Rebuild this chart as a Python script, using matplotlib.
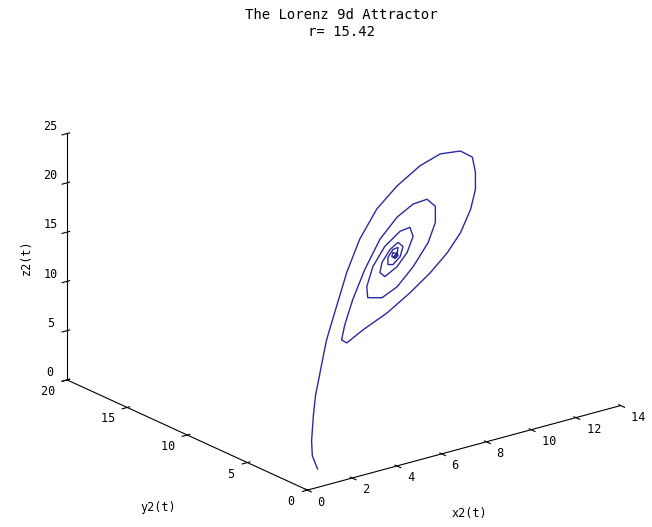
import numpy as np
import matplotlib
matplotlib.use("Agg")
import matplotlib.pyplot as plt

# trajectory (x2, y2, z2)
x2 = [0.79, 0.39, 0.32, 0.47, 0.63, 0.95, 1.26, 1.50, 2.13, 3.08,
      4.10, 5.44, 7.02, 8.83, 10.41, 11.99, 12.93, 13.17, 13.17, 12.78,
      11.99, 10.96, 9.62, 8.04, 6.23, 4.34, 3.08, 2.68, 2.92, 3.55,
      4.50, 5.68, 7.02, 8.28, 9.38, 10.02, 10.02, 9.46, 8.28, 7.02,
      5.84, 4.73, 4.65, 5.13, 6.07, 7.26, 8.04, 8.28, 7.81, 7.02,
      6.07, 5.68, 5.84, 6.47, 7.10, 7.49, 7.26, 6.70, 6.31, 6.31,
      6.70, 7.10, 7.02, 6.78, 6.86, 7.02, 7.10, 6.86, 6.62, 6.70,
      6.94, 6.94, 6.78]
y2 = [0.63, 0.32, 0.25, 0.38, 0.50, 0.76, 1.01, 1.20, 1.70, 2.46,
      3.28, 4.35, 5.61, 7.07, 8.33, 9.59, 10.35, 10.54, 10.54, 10.22,
      9.59, 8.77, 7.70, 6.44, 4.98, 3.47, 2.46, 2.15, 2.33, 2.84,
      3.60, 4.54, 5.61, 6.62, 7.51, 8.01, 8.01, 7.57, 6.62, 5.61,
      4.67, 3.79, 3.72, 4.10, 4.86, 5.80, 6.44, 6.62, 6.25, 5.61,
      4.86, 4.54, 4.67, 5.17, 5.68, 5.99, 5.80, 5.36, 5.05, 5.05,
      5.36, 5.68, 5.61, 5.43, 5.49, 5.61, 5.68, 5.49, 5.30, 5.36,
      5.55, 5.55, 5.43]
z2 = [1.31, 3.06, 4.68, 7.08, 8.95, 10.67, 12.38, 13.66, 15.75, 18.84,
      21.13, 22.77, 23.43, 23.55, 23.08, 21.70, 20.08, 18.29, 16.55, 14.92,
      13.40, 12.46, 11.84, 11.49, 11.37, 11.65, 11.67, 12.40, 13.68, 15.57,
      17.63, 19.44, 20.26, 20.25, 19.57, 18.18, 16.54, 15.08, 13.89, 13.19,
      13.33, 14.51, 15.72, 17.26, 18.30, 18.58, 18.14, 16.97, 15.83, 15.24,
      15.23, 16.06, 16.91, 17.57, 17.61, 16.78, 16.01, 15.78, 16.20, 16.92,
      17.32, 17.10, 16.47, 16.41, 16.54, 16.67, 16.28, 16.23, 16.69, 17.01,
      16.65, 16.34, 16.52]

x_ticks = [0, 2, 4, 6, 8, 10, 12, 14]
y_ticks = [0, 5, 10, 15, 20]
z_ticks = [0, 5, 10, 15, 20, 25]

plt.rcParams["font.family"] = "DejaVu Sans Mono"

fig = plt.figure(figsize=(6.52, 5.27), dpi=100)
side = 1.0
w = side * 527 / 652
ax = fig.add_axes([0.5165 - w / 2, 0.475 - side / 2, w, side], projection="3d",
                  proj_type="ortho")
ax.view_init(elev=20.6, azim=-127.5)
ax.set_box_aspect((1.5, 1.5, 1), zoom=1.137)

ax.plot(x2, y2, z2, color="#2a2aa0", lw=1)

ax.set_xlim(0, 14)
ax.set_ylim(0, 20)
ax.set_zlim(0, 25)
# MATLAB sets its tick labels a little off the tick, hence the padding space
ax.set_xticks(x_ticks, labels=[" %d" % t for t in x_ticks])
ax.set_yticks(y_ticks, labels=["%d " % t for t in y_ticks])
ax.set_zticks(z_ticks)
ax.grid(False)
for axis in (ax.xaxis, ax.yaxis, ax.zaxis):
    axis.set_pane_color((1, 1, 1, 0))
    axis.pane.set_edgecolor("none")
    axis.line.set_color("k")
    axis.line.set_linewidth(0.8)
ax.tick_params(axis="x", labelsize=8.5, pad=-5)
ax.tick_params(axis="y", labelsize=8.5, pad=-5)
ax.tick_params(axis="z", labelsize=8.5, pad=-2)

for lab in ax.xaxis.get_majorticklabels():
    lab.set_ha("left")
for lab in ax.yaxis.get_majorticklabels():
    lab.set_ha("right")
for lab in ax.zaxis.get_majorticklabels():
    lab.set_va("bottom")

# axis labels placed as in the MATLAB figure
fig.text(469 / 652, 1 - 513 / 527, "x2(t)", ha="center", va="center", fontsize=8.5)
fig.text(158 / 652, 1 - 508 / 527, "y2(t)", ha="center", va="center", fontsize=8.5)
fig.text(26 / 652, 1 - 257 / 527, "z2(t)", ha="center", va="center", fontsize=8.5,
         rotation=90)

fig.text(0.524, 0.985, "The Lorenz 9d Attractor\nr= 15.42", ha="center", va="top",
         fontsize=10, linespacing=1.25)

fig.savefig("out.png", dpi=100)
